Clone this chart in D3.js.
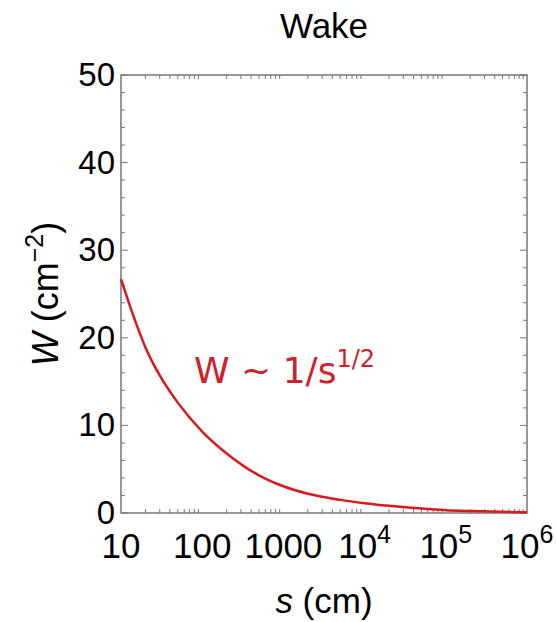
<!DOCTYPE html>
<html>
<head>
<meta charset="utf-8">
<script src="https://cdn.jsdelivr.net/npm/d3@7"></script>
<style>
  body { margin: 0; background: #fff; }
</style>
</head>
<body>
<svg id="chart" width="557" height="622"></svg>
<script>
// wake curve (s in cm, W in cm^-2)
const sValues = [10, 15, 20, 30, 50, 100, 200, 500, 1000, 2000, 5000, 1e4, 2e4, 5e4, 1e5, 2e5, 5e5, 1e6];
const wValues = [26.7, 21.9, 18.9, 15.7, 12.6, 9.3, 6.8, 4.3, 3.05, 2.2, 1.5, 1.12, 0.82, 0.5, 0.32, 0.22, 0.13, 0.09];

const xTicks = [10, 100, 1000, 1e4, 1e5, 1e6];
const yTicks = [0, 10, 20, 30, 40, 50];

const svg = d3.select("#chart");
const margin = { left: 121, right: 30, top: 75, bottom: 109 };
const W = 557, H = 622;
const x = d3.scaleLog().domain([10, 1e6]).range([margin.left, W - margin.right]);
const y = d3.scaleLinear().domain([0, 50]).range([H - margin.bottom, margin.top]);

const frameColor = "#777";
const font = "'Liberation Sans', Arial, sans-serif";

// minor ticks: 2..9 per decade, every 2 units on y
const xMinor = [];
d3.range(1, 6).forEach((e) => {
  for (let k = 2; k <= 9; k++) xMinor.push(k * Math.pow(10, e));
});
const yMinor = d3.range(0, 51, 2).filter((v) => v % 10 !== 0);

const g = svg.append("g").style("font-family", font);

// frame
g.append("rect")
  .attr("x", x.range()[0])
  .attr("y", y.range()[1])
  .attr("width", x.range()[1] - x.range()[0])
  .attr("height", y.range()[0] - y.range()[1])
  .attr("fill", "none")
  .attr("stroke", frameColor)
  .attr("stroke-width", 1.5);

// tick marks drawn inward on all four sides
const tickG = g.append("g").attr("stroke", frameColor).attr("stroke-width", 1);
const y0 = y(0), y1 = y(50), x0 = x(10), x1 = x(1e6);

tickG.selectAll(".xb")
  .data(xMinor)
  .join("line")
  .attr("x1", (d) => x(d)).attr("x2", (d) => x(d))
  .attr("y1", y0).attr("y2", y0 - 4);
tickG.selectAll(".xt")
  .data(xMinor)
  .join("line")
  .attr("x1", (d) => x(d)).attr("x2", (d) => x(d))
  .attr("y1", y1).attr("y2", y1 + 4);

tickG.selectAll(".yl")
  .data(yMinor)
  .join("line")
  .attr("x1", x0).attr("x2", x0 + 4)
  .attr("y1", (d) => y(d)).attr("y2", (d) => y(d));
tickG.selectAll(".yr")
  .data(yMinor)
  .join("line")
  .attr("x1", x1).attr("x2", x1 - 4)
  .attr("y1", (d) => y(d)).attr("y2", (d) => y(d));
tickG.selectAll(".ylM")
  .data(yTicks)
  .join("line")
  .attr("x1", x0).attr("x2", x0 + 7)
  .attr("y1", (d) => y(d)).attr("y2", (d) => y(d));
tickG.selectAll(".yrM")
  .data(yTicks)
  .join("line")
  .attr("x1", x1).attr("x2", x1 - 7)
  .attr("y1", (d) => y(d)).attr("y2", (d) => y(d));

// y tick labels
g.append("g")
  .selectAll("text")
  .data(yTicks)
  .join("text")
  .attr("x", x0 - 6)
  .attr("y", (d) => y(d) + 11)
  .attr("text-anchor", "end")
  .attr("font-size", 33)
  .text((d) => d);

// x tick labels, powers shown with superscripts
const xl = g.append("g")
  .selectAll("text")
  .data(xTicks)
  .join("text")
  .attr("x", (d) => x(d))
  .attr("y", y0 + 45)
  .attr("text-anchor", "middle")
  .attr("font-size", 35);
xl.each(function (d) {
  const t = d3.select(this);
  const e = Math.round(Math.log10(d));
  if (e <= 3) {
    t.text(d);
  } else {
    t.append("tspan").text("10");
    t.append("tspan").attr("font-size", 25).attr("dy", -15).text(e);
  }
});

// curve
const line = d3.line()
  .x((d, i) => x(sValues[i]))
  .y((d) => y(d))
  .curve(d3.curveMonotoneX);

g.append("path")
  .datum(wValues)
  .attr("d", line)
  .attr("fill", "none")
  .attr("stroke", "#d7191c")
  .attr("stroke-width", 2.5);

// annotation
const ann = g.append("text")
  .attr("x", 194)
  .attr("y", 383)
  .attr("fill", "#d0202a")
  .style("font-family", "'DejaVu Sans', sans-serif")
  .attr("font-size", 36);
ann.append("tspan").text("W ~ 1/s");
ann.append("tspan").attr("font-size", 24).attr("dy", -16).text("1/2");

// title
g.append("text")
  .attr("x", (x0 + x1) / 2)
  .attr("y", 38)
  .attr("text-anchor", "middle")
  .attr("font-size", 35)
  .text("Wake");

// x axis label
const xlab = g.append("text")
  .attr("x", (x0 + x1) / 2)
  .attr("y", 613)
  .attr("text-anchor", "middle")
  .attr("font-size", 35);
xlab.append("tspan").attr("font-style", "italic").text("s");
xlab.append("tspan").text(" (cm)");

// y axis label
const ylab = g.append("text")
  .attr("transform", `translate(58, ${(y0 + y1) / 2}) rotate(-90)`)
  .attr("text-anchor", "middle")
  .attr("font-size", 36);
ylab.append("tspan").attr("font-style", "italic").text("W");
ylab.append("tspan").text(" (cm");
ylab.append("tspan").attr("font-size", 25).attr("dy", -15).text("−2");
ylab.append("tspan").attr("dy", 15).text(")");
</script>
</body>
</html>
